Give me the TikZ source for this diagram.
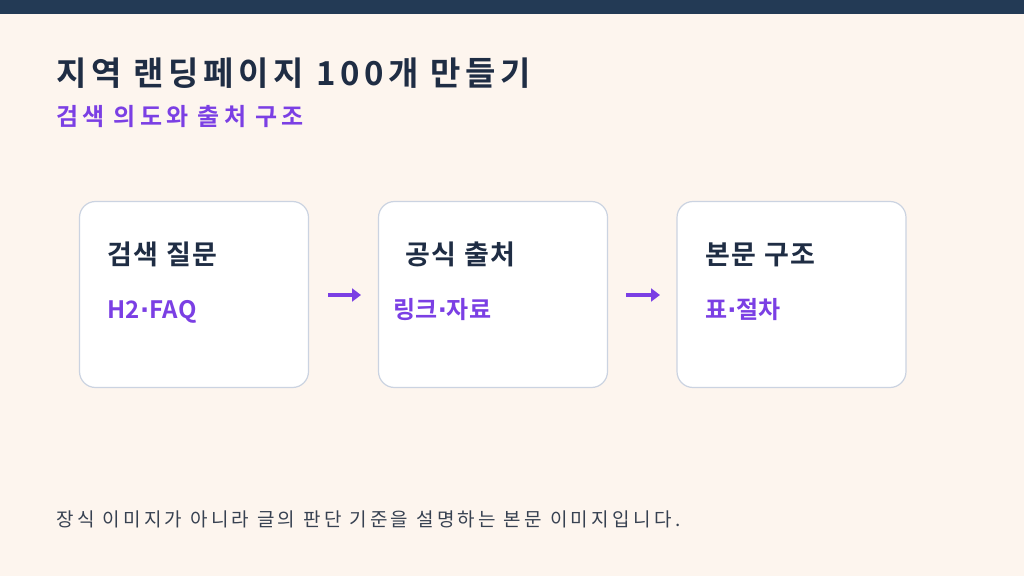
\documentclass[tikz,border=0pt]{standalone}
\usepackage{fontspec}
\setmainfont{Noto Sans CJK KR}[BoldFont={Noto Sans CJK KR Bold}]
\newfontfamily\latdot{DejaVu Sans}
\newcommand{\mdot}{{\latdot\bfseries ·}}
\usetikzlibrary{arrows.meta}
\definecolor{bg}{HTML}{FDF5EE}
\definecolor{navy}{HTML}{233A55}
\definecolor{ink}{HTML}{1F2D44}
\definecolor{purp}{HTML}{7B3FE4}
\definecolor{edge}{HTML}{CBD3E1}
\definecolor{foot}{HTML}{374151}
\begin{document}
\begin{tikzpicture}[x=1bp,y=-1bp,
  card/.style={draw=edge,line width=1.2bp,fill=white,rounded corners=16bp,minimum width=229bp,minimum height=186bp,inner sep=0},
  head/.style={anchor=base west,text=ink,font=\fontsize{27bp}{30bp}\selectfont\bfseries\addfontfeature{LetterSpace=6},inner sep=0},
  sub/.style={anchor=base west,text=purp,font=\fontsize{24bp}{27bp}\selectfont\bfseries\addfontfeature{LetterSpace=2},inner sep=0},
  arr/.style={draw=purp,line width=4bp,-{Triangle[length=9bp,width=13bp]}}]
\fill[bg] (0,0) rectangle (1024,576);
\fill[navy] (0,0) rectangle (1024,14);
\useasboundingbox (0,0) rectangle (1024,576);
\node[anchor=base west,inner sep=0,text=ink,font=\fontsize{33bp}{36bp}\selectfont\bfseries\addfontfeature{LetterSpace=14}] (title) at (56,86) {지역 랜딩페이지 100개 만들기};
\node[anchor=base west,inner sep=0,text=purp,font=\fontsize{24bp}{27bp}\selectfont\bfseries\addfontfeature{LetterSpace=17}] (subtitle) at (56,126) {검색 의도와 출처 구조};
\node[card] (c1) at (194,294.5) {};
\node[card] (c2) at (493,294.5) {};
\node[card] (c3) at (791.5,294.5) {};
\node[head] (h1) at (107,265) {검색 질문};
\node[sub] (s1) at (107,318) {H2\mdot FAQ};
\node[head] (h2) at (405,265) {공식 출처};
\node[sub] (s2) at (393,318) {링크\mdot 자료};
\node[head] (h3) at (705,265) {본문 구조};
\node[sub] (s3) at (705,318) {표\mdot 절차};
\coordinate (a1s) at (328,295); \coordinate (a1e) at (361,295);
\coordinate (a2s) at (626,295); \coordinate (a2e) at (660,295);
\draw[arr] (a1s) -- (a1e);
\draw[arr] (a2s) -- (a2e);
\node[anchor=base west,inner sep=0,text=foot,font=\fontsize{19bp}{21bp}\selectfont\addfontfeature{LetterSpace=18}] (footer) at (56,526) {장식 이미지가 아니라 글의 판단 기준을 설명하는 본문 이미지입니다.};
\end{tikzpicture}
\end{document}
